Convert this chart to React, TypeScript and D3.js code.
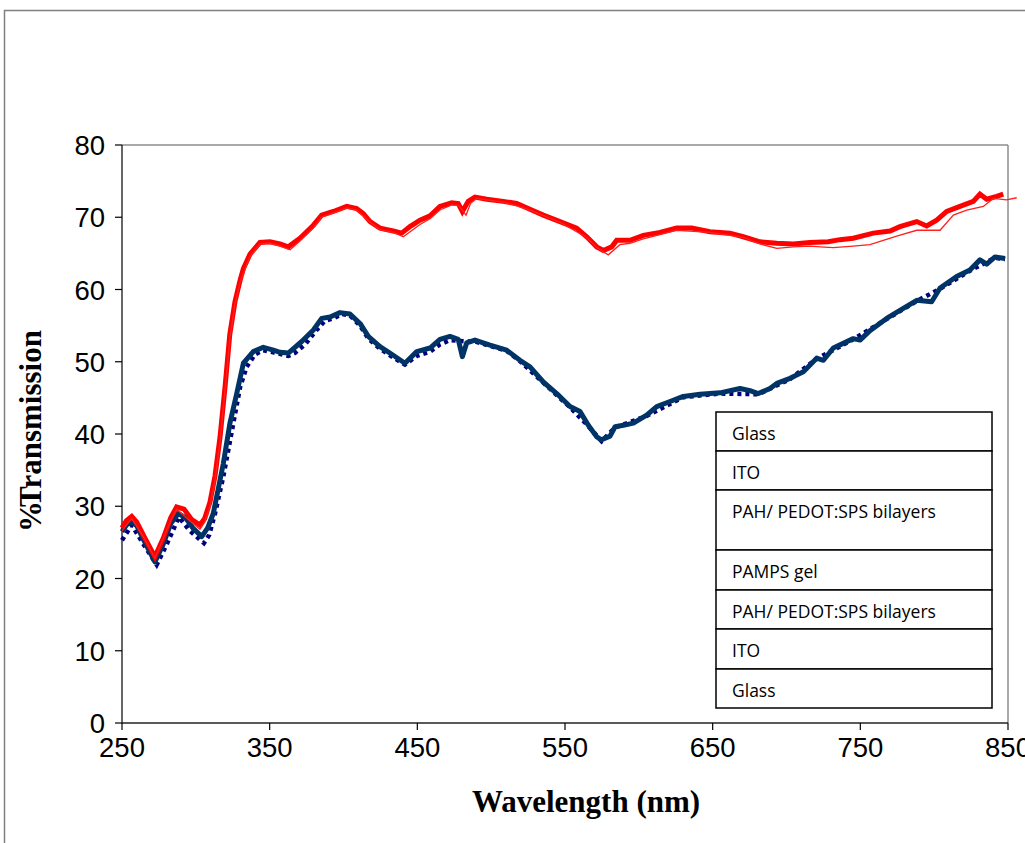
import React from "react";
import * as d3 from "d3";

const xTicks = [250, 350, 450, 550, 650, 750, 850];
const yTicks = [0, 10, 20, 30, 40, 50, 60, 70, 80];
const legendRows = ["Glass", "ITO", "PAH/ PEDOT:SPS bilayers", "PAMPS gel", "PAH/ PEDOT:SPS bilayers", "ITO", "Glass"];
const legendRowHeights = [39, 39, 60, 40, 39, 40, 39];

const redThickWl = [250, 253, 256.6, 260, 265, 272.3, 278, 283, 287, 292, 297, 302.8, 306, 309.6, 313, 316.4, 320, 323, 326.5, 330, 332.2, 336.7, 343.4, 350.2, 357, 362.6, 370.5, 379.6, 385.2, 393.1, 402.2, 408.9, 413.4, 418, 424.7, 433.7, 439.4, 445, 451.8, 458.6, 465.3, 473.3, 477.7, 480.5, 484.5, 489, 497, 508.2, 517.3, 525.1, 535.3, 546.6, 557.9, 564.7, 571.5, 576, 581.6, 585, 594, 603, 614.3, 625.6, 635.8, 648.2, 661.7, 670.7, 682, 693.4, 704.6, 715.9, 728.3, 736.2, 745.2, 758.8, 770.1, 776.8, 788.2, 794.9, 801.7, 808.5, 817.5, 826.5, 831, 835.6, 842.3, 846.8];
const redThickT = [27.0, 28.0, 28.6, 27.8, 25.8, 23.0, 25.6, 28.4, 29.9, 29.6, 28.2, 27.4, 28.3, 30.6, 34.2, 39.6, 47.0, 53.8, 58.3, 61.3, 62.9, 64.9, 66.5, 66.6, 66.3, 65.9, 67.1, 68.9, 70.3, 70.8, 71.5, 71.2, 70.5, 69.4, 68.5, 68.1, 67.8, 68.7, 69.6, 70.2, 71.5, 72.0, 71.9, 70.8, 72.2, 72.8, 72.5, 72.2, 71.9, 71.2, 70.3, 69.4, 68.5, 67.3, 65.9, 65.4, 65.9, 66.8, 66.8, 67.5, 67.9, 68.5, 68.5, 68.0, 67.8, 67.3, 66.6, 66.4, 66.3, 66.5, 66.6, 66.9, 67.1, 67.8, 68.1, 68.7, 69.4, 68.8, 69.6, 70.8, 71.5, 72.2, 73.2, 72.5, 72.9, 73.2];

const redThinWl = [250, 256.6, 265, 272.3, 283, 287, 297, 302.8, 306, 309.6, 313, 316.4, 320, 323, 326.5, 330, 336.7, 343.4, 350.2, 357, 363.8, 370.5, 379.6, 385.2, 393.1, 402.2, 408.9, 418, 424.7, 433.7, 440.5, 451.8, 458.6, 465.3, 473.3, 478, 483, 486, 490, 497, 508.2, 525.1, 546.6, 564.7, 571.5, 579.3, 587.2, 594, 603, 614.3, 625.6, 648.2, 670.7, 682, 693.4, 704.6, 715.9, 722.7, 731.7, 745.2, 756.5, 774.6, 788.2, 804, 813, 822, 833.3, 840, 849, 855.9];
const redThinT = [26.6, 28.3, 25.6, 22.8, 28.0, 29.6, 27.8, 26.8, 27.8, 30.0, 33.6, 39.0, 46.4, 53.2, 57.9, 61.0, 64.6, 66.3, 66.4, 66.0, 65.5, 66.7, 68.5, 70.0, 70.6, 71.3, 71.0, 69.3, 68.3, 67.9, 67.3, 69.0, 69.8, 71.0, 71.7, 71.6, 70.3, 71.9, 72.6, 72.4, 72.1, 71.1, 69.3, 67.2, 65.8, 64.8, 66.2, 66.4, 67.0, 67.6, 68.2, 67.9, 67.2, 66.3, 65.7, 65.9, 66.0, 65.9, 65.8, 66.0, 66.2, 67.4, 68.2, 68.2, 70.3, 71.0, 71.5, 72.6, 72.4, 72.7];

const blueLineWl = [250, 253, 256.6, 260, 265, 272.3, 278, 283, 288.1, 293, 298, 304, 308, 311.8, 315, 318.6, 323.1, 327.7, 332.2, 338.9, 345.7, 352.5, 357, 362.6, 371.7, 379.6, 385.2, 390.9, 397.6, 404.4, 411.2, 416.8, 424.7, 433.7, 441.6, 449.6, 458.6, 465.3, 472.1, 477.7, 480.5, 483.4, 489, 499.2, 510.5, 519.5, 526.3, 535.3, 544.4, 553.4, 560.2, 565.8, 571.5, 574.8, 580.5, 583.9, 589.5, 596.3, 605.3, 612.1, 621.1, 630.1, 641.4, 655, 668.5, 675.3, 680.9, 688.8, 693.4, 702.4, 711.4, 720.4, 725, 731.7, 745.2, 749.8, 756.5, 767.8, 776.8, 788.2, 798.3, 804, 815.2, 824.2, 831, 835.6, 841.2, 848];
const blueLineT = [26.5, 27.4, 27.9, 27.3, 25.2, 22.3, 24.8, 27.6, 29.0, 28.4, 27.0, 25.8, 27.0, 29.0, 32.2, 35.9, 41.5, 45.6, 49.8, 51.4, 52.0, 51.6, 51.3, 51.2, 52.8, 54.4, 56.0, 56.2, 56.8, 56.6, 55.3, 53.5, 52.1, 50.9, 49.8, 51.4, 51.9, 53.1, 53.5, 53.1, 50.7, 52.6, 53.0, 52.3, 51.6, 50.2, 49.3, 47.2, 45.6, 43.8, 43.1, 41.2, 39.6, 39.2, 39.7, 41.0, 41.2, 41.5, 42.6, 43.8, 44.5, 45.2, 45.5, 45.7, 46.3, 46.0, 45.6, 46.3, 47.0, 47.7, 48.6, 50.5, 50.2, 51.9, 53.2, 53.0, 54.3, 56.0, 57.1, 58.5, 58.3, 60.2, 61.8, 62.7, 64.1, 63.5, 64.5, 64.3];

const blueDotWl = [250, 256.6, 265, 273.5, 280, 288.5, 296, 305.5, 309, 313, 318.6, 325.4, 330, 334.4, 340, 345.7, 352.5, 362.6, 367, 374, 381.8, 387, 393, 399, 404.4, 411.2, 416.8, 424.7, 433.7, 441.6, 449.6, 458.6, 465.3, 472.1, 478, 484, 489, 499.2, 510.5, 519.5, 535.3, 553.4, 565.8, 574.8, 583.9, 605.3, 630.1, 655, 680.9, 702.4, 720.4, 745.2, 767.8, 788.2, 804, 824.2, 841.2, 848];
const blueDotT = [25.3, 27.4, 24.6, 21.9, 24.6, 28.5, 26.6, 24.9, 26.0, 29.0, 34.1, 41.5, 46.5, 49.3, 51.0, 51.6, 51.3, 50.8, 51.2, 52.4, 54.4, 55.6, 56.0, 56.6, 56.4, 55.0, 53.2, 51.8, 50.6, 49.6, 50.8, 51.4, 52.4, 53.0, 52.9, 52.8, 52.8, 52.2, 51.5, 50.1, 47.1, 43.7, 41.1, 39.0, 40.9, 42.5, 45.1, 45.6, 45.5, 47.6, 50.4, 53.1, 55.9, 58.4, 60.1, 62.6, 64.4, 64.2];

const W = 1025;
const H = 843;
const L = 122, R = 1008, T = 145, B = 723;

export default function App() {
  const x = d3.scaleLinear().domain([250, 850]).range([L, R]);
  const y = d3.scaleLinear().domain([0, 80]).range([B, T]);
  const line = d3.line<[number, number]>().x(d => x(d[0])).y(d => y(d[1]));
  const zip = (a: number[], b: number[]) => a.map((v, i) => [v, b[i]] as [number, number]);

  let legendY = 412;
  const legendX = 716, legendW = 276;

  return (
    <svg width={W} height={H} style={{ position: "absolute", left: 0, top: 0, background: "#fff" }}>
      <rect x={4.5} y={10.5} width={1040} height={860} fill="#fff" stroke="#7f7f7f" strokeWidth={1.5} />
      {/* plot frame */}
      <line x1={L} x2={R} y1={T} y2={T} stroke="#8c8c8c" strokeWidth={1.5} />
      <line x1={R} x2={R} y1={T} y2={B} stroke="#8c8c8c" strokeWidth={1.5} />
      <line x1={L} x2={L} y1={T} y2={B + 0.5} stroke="#000" strokeWidth={1.2} />
      <line x1={L} x2={R} y1={B} y2={B} stroke="#222" strokeWidth={1.5} />
      {yTicks.map(t => (
        <g key={"y" + t}>
          <line x1={L - 7} x2={L} y1={y(t)} y2={y(t)} stroke="#000" strokeWidth={1.2} />
          <text x={105} y={y(t) + 10} textAnchor="end" fontFamily="Liberation Sans, Arial, sans-serif" fontSize={27.5}>{t}</text>
        </g>
      ))}
      {xTicks.map(t => (
        <g key={"x" + t}>
          <line x1={x(t)} x2={x(t)} y1={B} y2={B + 7} stroke="#000" strokeWidth={1.2} />
          <text x={x(t)} y={757} textAnchor="middle" fontFamily="Liberation Sans, Arial, sans-serif" fontSize={27.5}>{t}</text>
        </g>
      ))}
      {/* series */}
      <path d={line(zip(blueDotWl, blueDotT)) || ""} fill="none" stroke="#000080" strokeWidth={4.5} strokeDasharray="4 4" />
      <path d={line(zip(blueLineWl, blueLineT)) || ""} fill="none" stroke="#003366" strokeWidth={5} strokeLinejoin="round" />
      <path d={line(zip(redThickWl, redThickT)) || ""} fill="none" stroke="#ff0000" strokeWidth={5} strokeLinejoin="miter" />
      <path d={line(zip(redThinWl, redThinT)) || ""} fill="none" stroke="#ff2020" strokeWidth={1.3} />
      {/* legend table */}
      <g>
        {legendRows.map((r, i) => {
          const y0 = legendY;
          legendY += legendRowHeights[i];
          return (
            <g key={"l" + i}>
              <rect x={legendX} y={y0} width={legendW} height={legendRowHeights[i]} fill="#fff" stroke="#000" strokeWidth={1.5} />
              <text x={732} y={y0 + 28} fontFamily="Open Sans, Noto Sans, sans-serif" fontSize={17.5} fill="#000">{r}</text>
            </g>
          );
        })}
      </g>
      <text x={586} y={812} textAnchor="middle" fontFamily="Liberation Serif, Times New Roman, serif" fontWeight="bold" fontSize={31}>Wavelength (nm)</text>
      <text transform="translate(41,431) rotate(-90)" textAnchor="middle" fontFamily="Liberation Serif, Times New Roman, serif" fontWeight="bold" fontSize={31}>%<tspan dx={-6}>Transmission</tspan></text>
    </svg>
  );
}
